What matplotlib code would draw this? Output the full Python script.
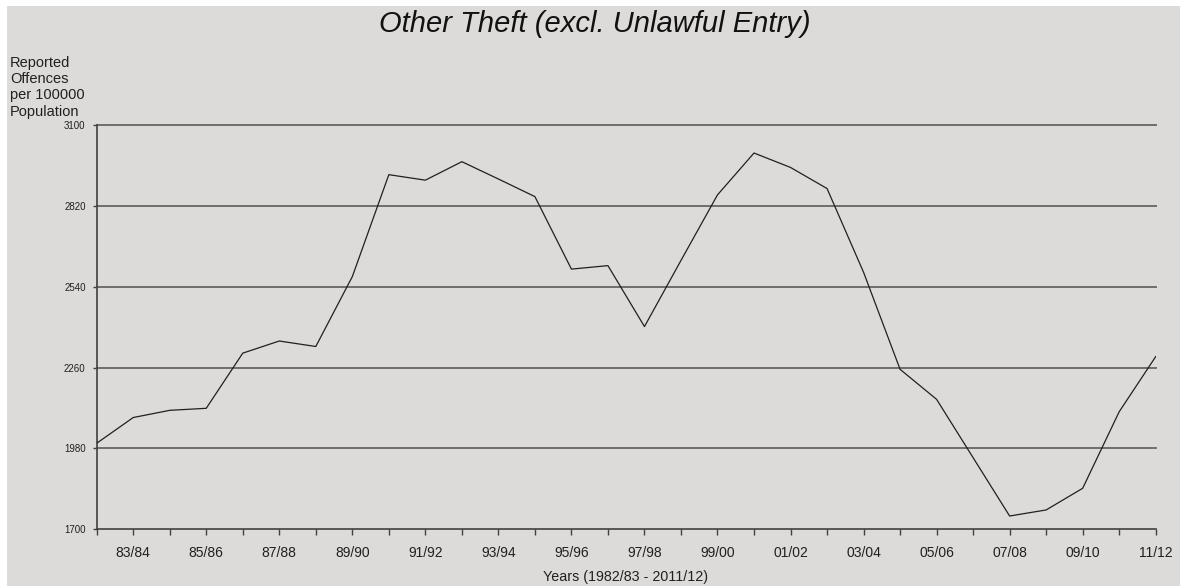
import matplotlib
matplotlib.use("Agg")
from matplotlib import pyplot as plt
from matplotlib.patches import Rectangle

# reported offences per 100000 population, 1982/83 .. 2011/12
years = ["82/83", "83/84", "84/85", "85/86", "86/87", "87/88", "88/89", "89/90",
         "90/91", "91/92", "92/93", "93/94", "94/95", "95/96", "96/97", "97/98",
         "98/99", "99/00", "00/01", "01/02", "02/03", "03/04", "04/05", "05/06",
         "06/07", "07/08", "08/09", "09/10", "10/11", "11/12"]
offences = [1998, 2087, 2112, 2119, 2310, 2352, 2333, 2575,
            2928, 2909, 2973, 2913, 2852, 2601, 2613, 2402,
            2631, 2858, 3003, 2953, 2880, 2590, 2254, 2150,
            1948, 1746, 1767, 1842, 2107, 2298]
y_ticks = [1700, 1980, 2260, 2540, 2820, 3100]

BG = "#dcdbd9"
FONT = "Liberation Sans"

fig = plt.figure(figsize=(11.8, 5.86), dpi=100, facecolor="white")
fig.patches.append(Rectangle((7 / 1180, 0), 1, 1 - 6 / 586, transform=fig.transFigure,
                             facecolor=BG, edgecolor="none", zorder=-10))

ax = fig.add_axes([96.7 / 1180, 1 - 529.3 / 586, 1059 / 1180, 404.3 / 586])
ax.set_facecolor(BG)

x = list(range(len(years)))
ax.plot(x, offences, color="#202020", linewidth=0.9, zorder=3)

for v in y_ticks[1:]:
    ax.axhline(v, color="#6e6e6e", linewidth=1.4, zorder=2, clip_on=False)

ax.set_xlim(0, len(years) - 1)
ax.set_ylim(1700, 3100)
ax.set_yticks(y_ticks)
ax.set_yticklabels([str(v) for v in y_ticks], fontsize=7, family=FONT, color="#202020")
ax.set_xticks(x)
ax.set_xticklabels([y if i % 2 == 1 else "" for i, y in enumerate(years)],
                   fontsize=10, family=FONT, color="#202020")
ax.tick_params(axis="x", length=4, width=1, color="#404040", pad=8)
ax.tick_params(axis="y", length=3, width=1, color="#404040", pad=5)

for s in ["top", "right"]:
    ax.spines[s].set_visible(False)
for s in ["left", "bottom"]:
    ax.spines[s].set_color("#404040")
    ax.spines[s].set_linewidth(1.2)

fig.text(626 / 1180, 1 - 577 / 586, "Years (1982/83 - 2011/12)", ha="center", va="center",
         fontsize=10.3, family=FONT, color="#202020")
fig.text(10 / 1180, 1 - 56 / 586, "Reported\nOffences\nper 100000\nPopulation",
         ha="left", va="top", fontsize=10.5, family=FONT, linespacing=1.2, color="#202020")
fig.text(595 / 1180, 1 - 24 / 586, "Other Theft (excl. Unlawful Entry)", ha="center",
         va="center", fontsize=21, family=FONT, style="italic", color="#111111")

fig.savefig("out.png", dpi=100, facecolor=fig.get_facecolor())
